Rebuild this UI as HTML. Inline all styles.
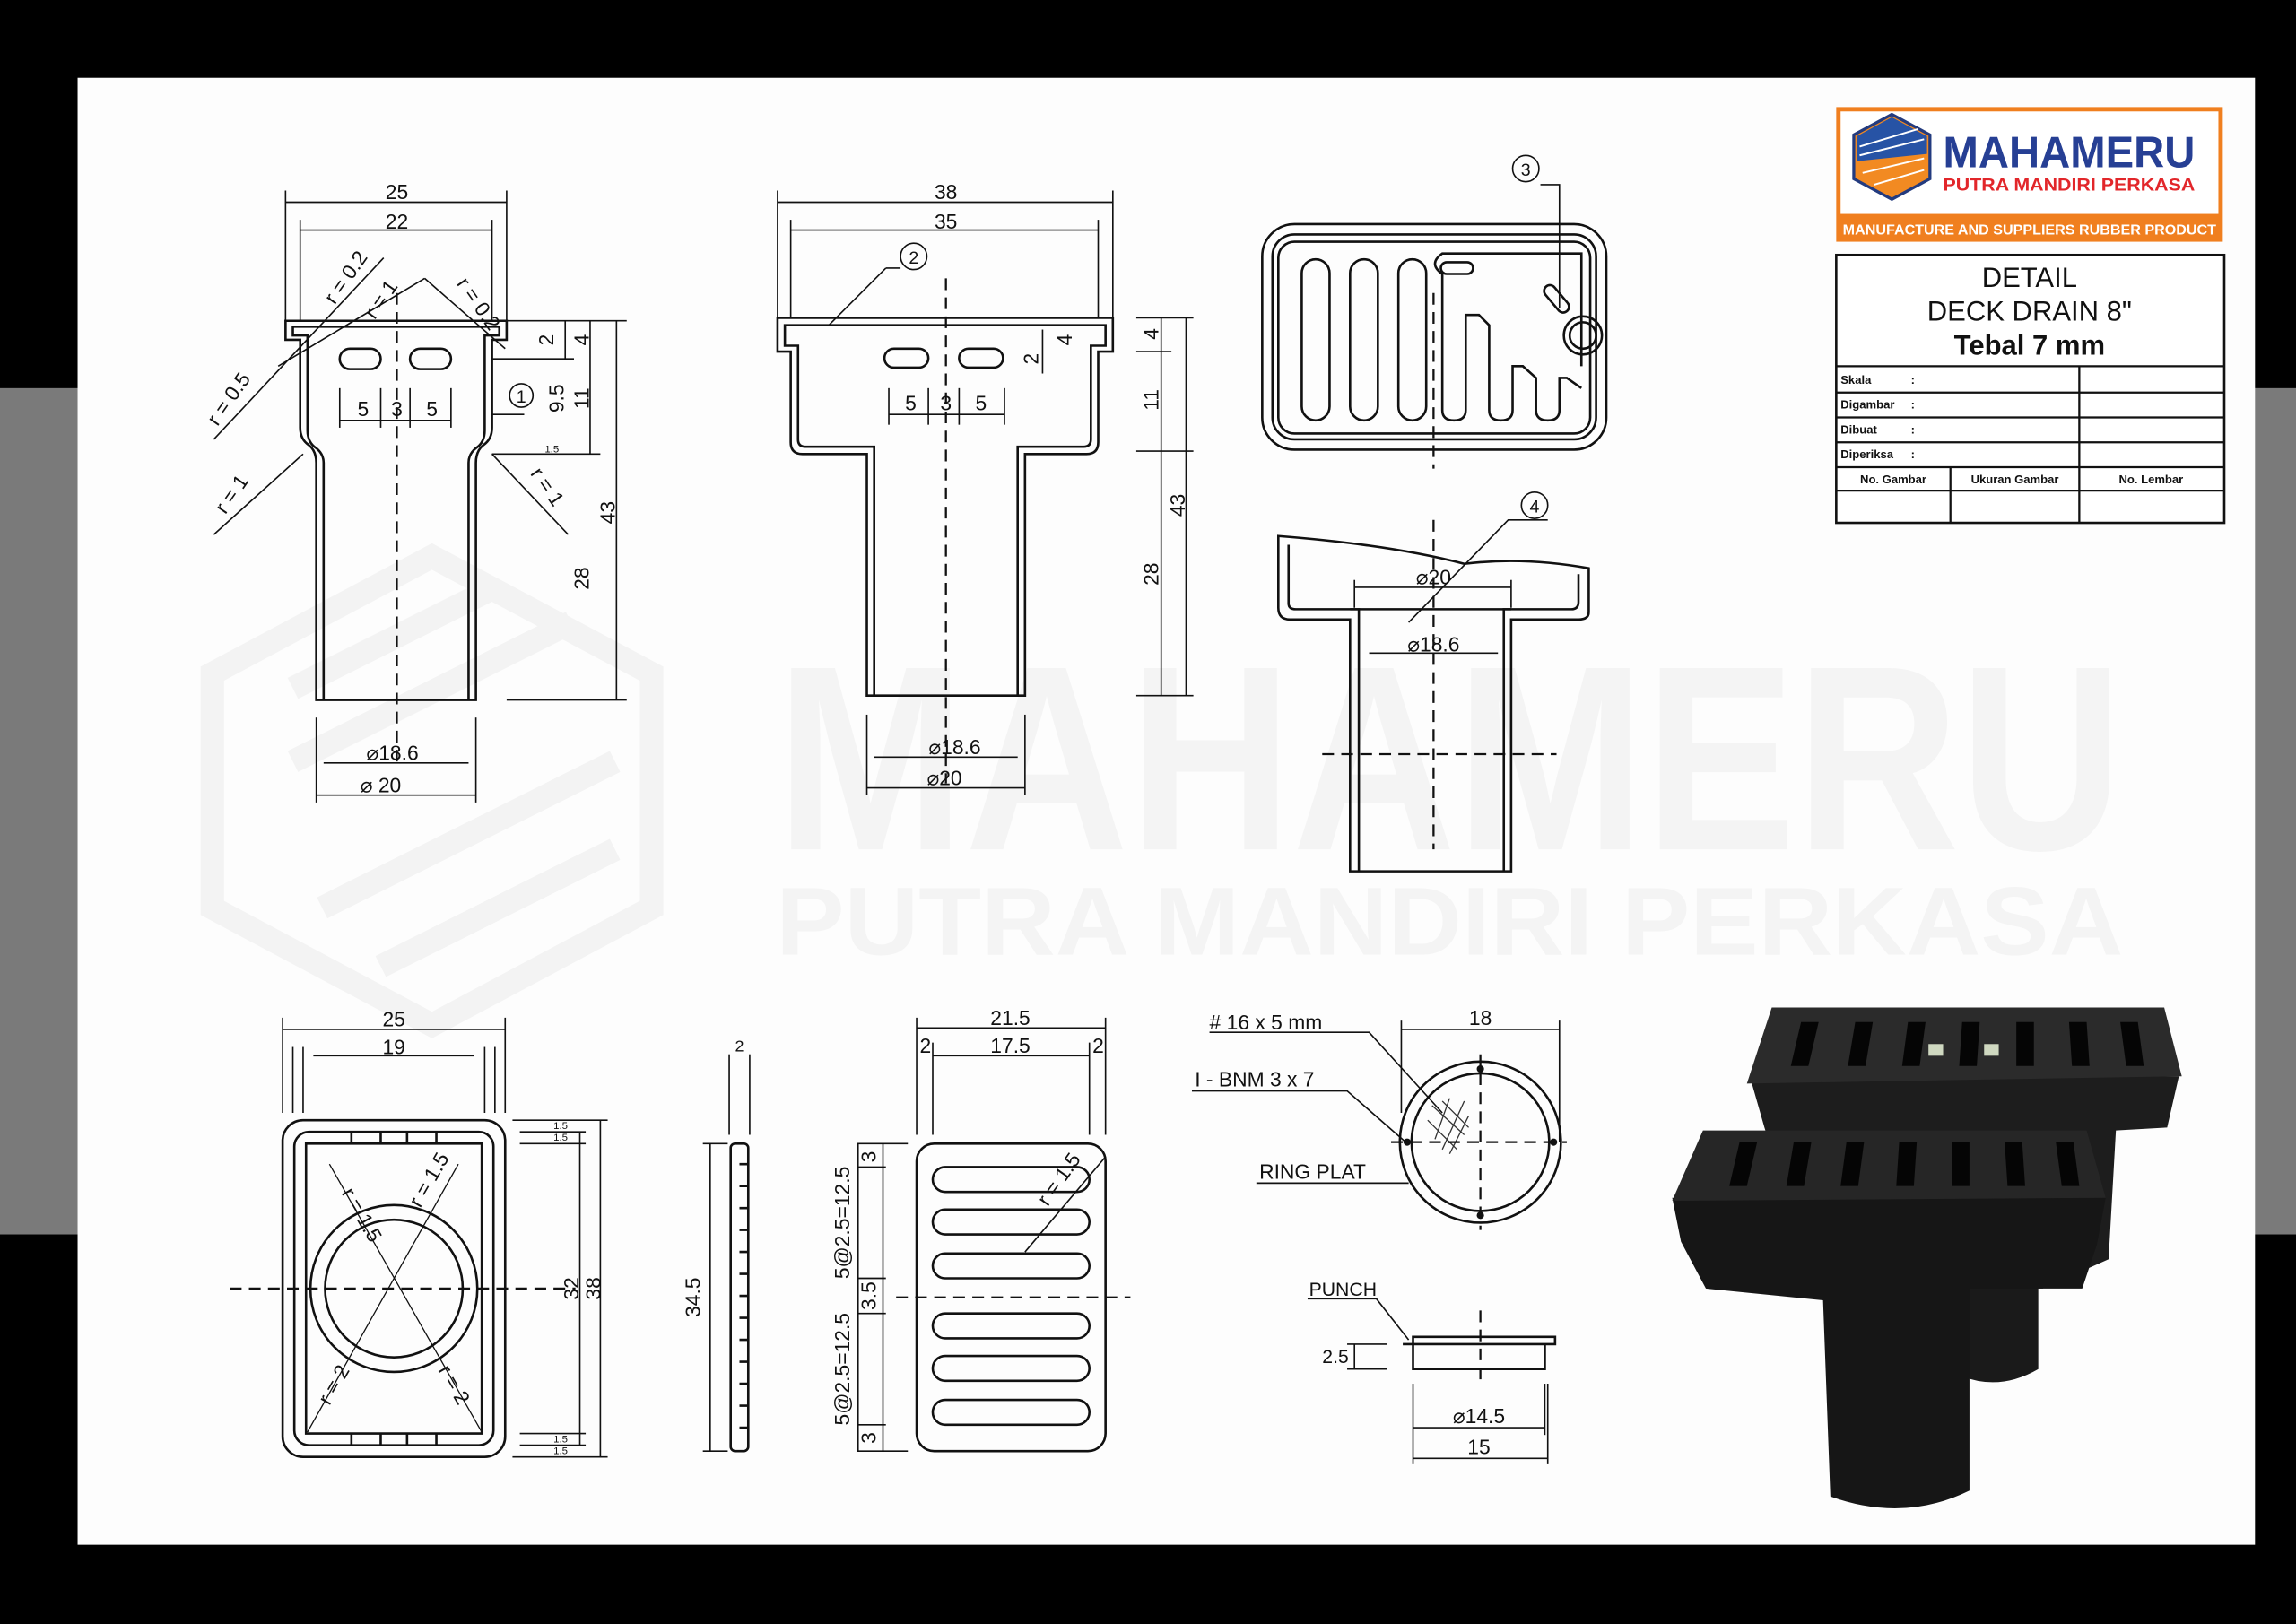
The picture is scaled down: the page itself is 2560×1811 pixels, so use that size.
<!DOCTYPE html>
<html><head><meta charset="utf-8"><style>
html,body{margin:0;padding:0;background:#000}
svg{display:block}
text{font-family:"Liberation Sans",sans-serif;fill:#111}
</style></head><body>
<svg width="2560" height="1811" viewBox="0 0 1568 1109" xmlns="http://www.w3.org/2000/svg">
<rect width="1568" height="1109" fill="#000"/>
<rect x="0" y="265" width="1568" height="578" fill="#7a7a7a"/>
<rect x="53" y="53" width="1487" height="1002" fill="#fdfdfd"/>
<!-- faint watermark -->
<g fill="none" stroke="#f3f3f3" stroke-width="16">
<polygon points="295,380 445,460 445,620 295,700 145,620 145,460"/>
<line x1="200" y1="470" x2="340" y2="400"/><line x1="200" y1="520" x2="390" y2="425"/>
<line x1="220" y1="620" x2="420" y2="520"/><line x1="260" y1="660" x2="420" y2="580"/>
</g>
<text x="990" y="580" font-size="180" font-weight="bold" text-anchor="middle" style="fill:#f4f4f4" textLength="920" lengthAdjust="spacingAndGlyphs">MAHAMERU</text>
<text x="990" y="652" font-size="66" font-weight="bold" text-anchor="middle" style="fill:#f4f4f4" textLength="920" lengthAdjust="spacingAndGlyphs">PUTRA MANDIRI PERKASA</text>

<g stroke="#111" stroke-width="1.6" fill="none">
<!-- View 1 -->
<path d="M195,219 H346 V232 H336 V292 Q336,300 330,304 Q325,308 325,316 V478 H216 V316 Q216,308 211,304 Q205,300 205,292 V232 H195 Z"/>
<path d="M221,478 V316 Q221,310 216,306 Q210,302 210,294 V229 H200 V223 H341 V229 H331 V294 Q331,302 325,306 Q320,310 320,316 V478"/>
<rect x="232" y="238" width="28" height="14" rx="7"/><rect x="280" y="238" width="28" height="14" rx="7"/>
<!-- View 2 -->
<path d="M531,217 H760 V240 H750 V302 Q750,310 742,310 H700 V475 H592 V310 H548 Q540,310 540,302 V240 H531 Z"/>
<path d="M597,475 V305 H550 Q545,305 545,300 V236 H536 V222 H755 V236 H745 V300 Q745,305 740,305 H695 V475"/>
<rect x="604" y="238" width="30" height="13" rx="6.5"/><rect x="655" y="238" width="30" height="13" rx="6.5"/>
<!-- grate top -->
<rect x="862" y="153" width="235" height="154" rx="22"/>
<rect x="869" y="160" width="221" height="140" rx="15"/>
<rect x="873" y="165" width="213" height="131" rx="11"/>
<rect x="889" y="177" width="19" height="110" rx="9.5"/><rect x="922" y="177" width="19" height="110" rx="9.5"/><rect x="955" y="177" width="19" height="110" rx="9.5"/>
<path d="M985,187 V280 Q985,287 993,287 Q1001,287 1001,280 V215 H1010 L1017,222 V280 Q1017,287 1025,287 Q1033,287 1033,280 V250 H1040 L1049,258 V280 Q1049,287 1057,287 Q1065,287 1065,280 V258 H1070 L1080,265"/>
<path d="M985,187 Q975,180 985,173 H1080 V250"/>
<rect x="984" y="179" width="22" height="8" rx="4"/>
<circle cx="1081" cy="229" r="13"/><circle cx="1081" cy="229" r="9"/>
<rect x="1052" y="200" width="22" height="8" rx="4" transform="rotate(50 1063 204)"/>
<!-- section 4 -->
<path d="M873,366 Q950,372 1000,385 Q1040,380 1085,388 V418 Q1085,423 1078,423 H1032 V595 H922 V423 H881 Q873,423 873,415 Z"/>
<path d="M880,372 V412 Q880,416 885,416 H928 V595 M1027,595 V416 H1073 Q1078,416 1078,411 V392"/>
<line x1="922" y1="416" x2="1032" y2="416"/>
<!-- bottom views -->
<rect x="193" y="765" width="152" height="230" rx="14"/>
<rect x="201" y="773" width="136" height="214" rx="10"/>
<path d="M209,781 H329 V979 H209 Z"/>
<circle cx="269" cy="880" r="57"/><circle cx="269" cy="880" r="47"/>
<line x1="240" y1="773" x2="240" y2="781"/><line x1="260" y1="773" x2="260" y2="781"/><line x1="278" y1="773" x2="278" y2="781"/><line x1="298" y1="773" x2="298" y2="781"/>
<line x1="240" y1="979" x2="240" y2="987"/><line x1="260" y1="979" x2="260" y2="987"/><line x1="278" y1="979" x2="278" y2="987"/><line x1="298" y1="979" x2="298" y2="987"/>
<line x1="225" y1="795" x2="329" y2="978" stroke-width="0.8"/><line x1="313" y1="795" x2="210" y2="978" stroke-width="0.8"/>
<rect x="499" y="781" width="12" height="210" rx="3"/>
<path d="M505,795 h6 M505,810 h6 M505,825 h6 M505,840 h6 M505,855 h6 M505,870 h6 M505,885 h6 M505,900 h6 M505,915 h6 M505,930 h6 M505,945 h6 M505,960 h6 M505,975 h6"/>
<rect x="626" y="781" width="129" height="210" rx="12"/>
<rect x="637" y="797" width="107" height="17" rx="8.5"/><rect x="637" y="826" width="107" height="17" rx="8.5"/><rect x="637" y="856" width="107" height="17" rx="8.5"/>
<rect x="637" y="897" width="107" height="17" rx="8.5"/><rect x="637" y="926" width="107" height="17" rx="8.5"/><rect x="637" y="956" width="107" height="17" rx="8.5"/>
<circle cx="1011" cy="780" r="55"/><circle cx="1011" cy="780" r="47"/>
<path d="M958,918 H1062 V913 H965 V935 H1055 V918"/>
</g>
<g fill="#111"><circle cx="1011" cy="730" r="2.5"/><circle cx="1011" cy="830" r="2.5"/><circle cx="961" cy="780" r="2.5"/><circle cx="1061" cy="780" r="2.5"/></g>
<g stroke="#333" stroke-width="0.8"><path d="M978,755 L1000,775 M975,765 L995,785 M985,752 L1003,770 M990,750 L980,778 M1000,752 L985,785 M1003,762 L990,788"/></g>
<!-- centerlines -->
<g stroke="#111" stroke-width="1.4" fill="none" stroke-dasharray="8,5">
<line x1="271" y1="200" x2="271" y2="520"/><line x1="646" y1="190" x2="646" y2="535"/>
<line x1="979" y1="200" x2="979" y2="320"/><line x1="979" y1="355" x2="979" y2="580"/>
<line x1="903" y1="515" x2="1063" y2="515"/>
<line x1="157" y1="880" x2="393" y2="880"/><line x1="612" y1="886" x2="772" y2="886"/>
<line x1="1011" y1="720" x2="1011" y2="840"/><line x1="950" y1="780" x2="1070" y2="780"/>
<line x1="1011" y1="895" x2="1011" y2="945"/>
</g>
<!-- dimension lines -->
<g stroke="#111" stroke-width="1" fill="none">
<line x1="195" y1="138" x2="346" y2="138"/><line x1="205" y1="157" x2="336" y2="157"/>
<line x1="195" y1="130" x2="195" y2="219"/><line x1="346" y1="130" x2="346" y2="219"/><line x1="205" y1="150" x2="205" y2="219"/><line x1="336" y1="150" x2="336" y2="219"/>
<line x1="346" y1="219" x2="428" y2="219"/><line x1="346" y1="478" x2="428" y2="478"/>
<line x1="421" y1="219" x2="421" y2="478"/><line x1="403" y1="219" x2="403" y2="310"/><line x1="386" y1="219" x2="386" y2="245"/>
<line x1="336" y1="310" x2="410" y2="310"/><line x1="336" y1="245" x2="392" y2="245"/>
<line x1="232" y1="287" x2="308" y2="287"/><line x1="232" y1="265" x2="232" y2="292"/><line x1="260" y1="265" x2="260" y2="292"/><line x1="280" y1="265" x2="280" y2="292"/><line x1="308" y1="265" x2="308" y2="292"/>
<line x1="221" y1="521" x2="320" y2="521"/><line x1="216" y1="543" x2="325" y2="543"/><line x1="216" y1="490" x2="216" y2="548"/><line x1="325" y1="490" x2="325" y2="548"/>
<line x1="146" y1="300" x2="262" y2="176"/><line x1="190" y1="250" x2="290" y2="190"/><line x1="290" y1="190" x2="345" y2="238"/>
<line x1="146" y1="365" x2="207" y2="310"/><line x1="336" y1="310" x2="388" y2="365"/>
<line x1="336" y1="283" x2="358" y2="283"/><circle cx="356" cy="270" r="8"/>
<line x1="531" y1="138" x2="760" y2="138"/><line x1="540" y1="157" x2="750" y2="157"/>
<line x1="531" y1="130" x2="531" y2="217"/><line x1="760" y1="130" x2="760" y2="217"/><line x1="540" y1="150" x2="540" y2="217"/><line x1="750" y1="150" x2="750" y2="217"/>
<line x1="776" y1="217" x2="815" y2="217"/><line x1="776" y1="475" x2="815" y2="475"/><line x1="776" y1="240" x2="800" y2="240"/><line x1="776" y1="308" x2="815" y2="308"/>
<line x1="810" y1="217" x2="810" y2="475"/><line x1="793" y1="217" x2="793" y2="475"/>
<line x1="712" y1="225" x2="712" y2="255"/>
<line x1="607" y1="283" x2="686" y2="283"/><line x1="607" y1="265" x2="607" y2="290"/><line x1="634" y1="265" x2="634" y2="290"/><line x1="655" y1="265" x2="655" y2="290"/><line x1="686" y1="265" x2="686" y2="290"/>
<line x1="597" y1="517" x2="695" y2="517"/><line x1="592" y1="538" x2="700" y2="538"/><line x1="592" y1="488" x2="592" y2="543"/><line x1="700" y1="488" x2="700" y2="543"/>
<line x1="566" y1="222" x2="605" y2="183"/><line x1="605" y1="183" x2="615" y2="183"/><circle cx="624" cy="175" r="9"/>
<circle cx="1042" cy="115" r="9"/><path d="M1052,126 H1065 V210"/>
<circle cx="1048" cy="345" r="9"/><path d="M1057,355 H1030 L962,425"/>
<line x1="925" y1="401" x2="1032" y2="401"/><line x1="935" y1="446" x2="1023" y2="446"/><line x1="925" y1="396" x2="925" y2="415"/><line x1="1032" y1="396" x2="1032" y2="415"/>
<line x1="193" y1="703" x2="345" y2="703"/><line x1="214" y1="721" x2="324" y2="721"/>
<line x1="193" y1="695" x2="193" y2="760"/><line x1="345" y1="695" x2="345" y2="760"/><line x1="200" y1="715" x2="200" y2="760"/><line x1="207" y1="715" x2="207" y2="760"/><line x1="331" y1="715" x2="331" y2="760"/><line x1="338" y1="715" x2="338" y2="760"/>
<line x1="350" y1="765" x2="415" y2="765"/><line x1="350" y1="995" x2="415" y2="995"/><line x1="355" y1="773" x2="400" y2="773"/><line x1="355" y1="781" x2="400" y2="781"/><line x1="355" y1="979" x2="400" y2="979"/><line x1="355" y1="987" x2="400" y2="987"/>
<line x1="410" y1="765" x2="410" y2="995"/><line x1="396" y1="773" x2="396" y2="987"/>
<line x1="498" y1="720" x2="498" y2="775"/><line x1="512" y1="720" x2="512" y2="775"/>
<line x1="480" y1="781" x2="497" y2="781"/><line x1="480" y1="991" x2="497" y2="991"/><line x1="485" y1="781" x2="485" y2="991"/>
<line x1="626" y1="702" x2="755" y2="702"/><line x1="637" y1="721" x2="744" y2="721"/>
<line x1="626" y1="695" x2="626" y2="775"/><line x1="755" y1="695" x2="755" y2="775"/><line x1="637" y1="712" x2="637" y2="775"/><line x1="744" y1="712" x2="744" y2="775"/>
<line x1="585" y1="781" x2="620" y2="781"/><line x1="585" y1="991" x2="620" y2="991"/><line x1="585" y1="797" x2="605" y2="797"/><line x1="585" y1="873" x2="605" y2="873"/><line x1="585" y1="897" x2="605" y2="897"/><line x1="585" y1="973" x2="605" y2="973"/>
<line x1="586" y1="781" x2="586" y2="991"/><line x1="603" y1="781" x2="603" y2="991"/>
<line x1="700" y1="855" x2="755" y2="790"/>
<line x1="957" y1="703" x2="1065" y2="703"/><line x1="957" y1="697" x2="957" y2="760"/><line x1="1065" y1="697" x2="1065" y2="780"/>
<path d="M826,705 H935 L985,760"/><path d="M814,745 H920 L960,780"/><path d="M858,808 H962"/>
<path d="M893,887 H940 L962,915"/>
<path d="M920,918 H947 M920,935 H947 M925,918 V935"/>
<line x1="965" y1="975" x2="1055" y2="975"/><line x1="965" y1="996" x2="1057" y2="996"/><line x1="965" y1="945" x2="965" y2="1000"/><line x1="1055" y1="945" x2="1055" y2="980"/><line x1="1057" y1="945" x2="1057" y2="1000"/>
</g>
<!-- labels -->
<g font-size="14">
<text x="271" y="136" text-anchor="middle">25</text><text x="271" y="156" text-anchor="middle">22</text>
<text x="646" y="136" text-anchor="middle">38</text><text x="646" y="156" text-anchor="middle">35</text>
<text x="248" y="284" text-anchor="middle">5</text><text x="271" y="284" text-anchor="middle">3</text><text x="295" y="284" text-anchor="middle">5</text>
<text x="622" y="280" text-anchor="middle">5</text><text x="646" y="280" text-anchor="middle">3</text><text x="670" y="280" text-anchor="middle">5</text>
<text x="268" y="519" text-anchor="middle">⌀18.6</text><text x="260" y="541" text-anchor="middle">⌀ 20</text>
<text x="652" y="515" text-anchor="middle">⌀18.6</text><text x="645" y="536" text-anchor="middle">⌀20</text>
<text x="979" y="399" text-anchor="middle">⌀20</text><text x="979" y="445" text-anchor="middle">⌀18.6</text>
<text transform="translate(420,350) rotate(-90)" text-anchor="middle">43</text>
<text transform="translate(402,395) rotate(-90)" text-anchor="middle">28</text>
<text transform="translate(402,272) rotate(-90)" text-anchor="middle">11</text>
<text transform="translate(385,272) rotate(-90)" text-anchor="middle">9.5</text>
<text transform="translate(402,232) rotate(-90)" text-anchor="middle">4</text>
<text transform="translate(378,232) rotate(-90)" text-anchor="middle">2</text>
<text transform="translate(809,345) rotate(-90)" text-anchor="middle">43</text>
<text transform="translate(791,392) rotate(-90)" text-anchor="middle">28</text>
<text transform="translate(791,273) rotate(-90)" text-anchor="middle">11</text>
<text transform="translate(791,228) rotate(-90)" text-anchor="middle">4</text>
<text transform="translate(709,245) rotate(-90)" text-anchor="middle">2</text>
<text transform="translate(732,232) rotate(-90)" text-anchor="middle">4</text>
<text transform="translate(160,275) rotate(-55)" text-anchor="middle">r = 0.5</text>
<text transform="translate(240,192) rotate(-55)" text-anchor="middle">r = 0.2</text>
<text transform="translate(264,207) rotate(-55)" text-anchor="middle">r = 1</text>
<text transform="translate(323,210) rotate(55)" text-anchor="middle">r = 0.2</text>
<text transform="translate(162,340) rotate(-55)" text-anchor="middle">r = 1</text>
<text transform="translate(370,335) rotate(55)" text-anchor="middle">r = 1</text>
<text x="356" y="275" text-anchor="middle" font-size="12">1</text>
<text x="624" y="180" text-anchor="middle" font-size="12">2</text>
<text x="1042" y="120" text-anchor="middle" font-size="12">3</text>
<text x="1048" y="350" text-anchor="middle" font-size="12">4</text>
<text x="269" y="701" text-anchor="middle">25</text><text x="269" y="720" text-anchor="middle">19</text>
<text transform="translate(395,880) rotate(-90)" text-anchor="middle">32</text>
<text transform="translate(410,880) rotate(-90)" text-anchor="middle">38</text>
<text transform="translate(478,886) rotate(-90)" text-anchor="middle">34.5</text>
<text x="505" y="718" text-anchor="middle" font-size="11">2</text>
<text transform="translate(243,832) rotate(60)" text-anchor="middle">r = 1.5</text>
<text transform="translate(297,808) rotate(-60)" text-anchor="middle">r = 1.5</text>
<text transform="translate(232,948) rotate(-60)" text-anchor="middle">r = 2</text>
<text transform="translate(306,948) rotate(60)" text-anchor="middle">r = 2</text>
<text x="690" y="700" text-anchor="middle">21.5</text><text x="690" y="719" text-anchor="middle">17.5</text>
<text x="632" y="719" text-anchor="middle">2</text><text x="750" y="719" text-anchor="middle">2</text>
<text transform="translate(580,835) rotate(-90)" text-anchor="middle">5@2.5=12.5</text>
<text transform="translate(580,935) rotate(-90)" text-anchor="middle">5@2.5=12.5</text>
<text transform="translate(598,790) rotate(-90)" text-anchor="middle">3</text>
<text transform="translate(598,885) rotate(-90)" text-anchor="middle">3.5</text>
<text transform="translate(598,982) rotate(-90)" text-anchor="middle">3</text>
<text transform="translate(727,808) rotate(-55)" text-anchor="middle">r = 1.5</text>
<text x="826" y="703">#  16  x  5   mm</text>
<text x="816" y="742">I  -  BNM  3 x 7</text>
<text x="860" y="805">RING PLAT</text>
<text x="1011" y="700" text-anchor="middle">18</text>
<text x="894" y="885" font-size="13">PUNCH</text>
<text x="903" y="931" font-size="13">2.5</text>
<text x="1010" y="972" text-anchor="middle">⌀14.5</text>
<text x="1010" y="993" text-anchor="middle">15</text>
<g font-size="7"><text x="378" y="771">1.5</text><text x="378" y="779">1.5</text><text x="378" y="985">1.5</text><text x="378" y="993">1.5</text><text x="372" y="309">1.5</text></g>
</g>
<!-- photo -->
<g>
<!-- back unit -->
<path d="M1340,870 H1392 V935 Q1366,950 1340,940 Z" fill="#1a1a1a"/>
<path d="M1195,735 L1488,735 L1480,770 L1445,772 L1440,860 L1395,880 L1240,880 L1205,770 Z" fill="#1d1d1d"/>
<path d="M1210,688 L1478,688 L1490,735 L1193,740 Z" fill="#2b2b2b"/>
<!-- front unit -->
<path d="M1142,818 L1438,818 L1432,850 L1422,880 L1345,880 L1345,1018 Q1300,1040 1250,1022 L1245,888 L1165,880 L1148,848 Z" fill="#161616"/>
<path d="M1163,772 L1425,772 L1438,818 L1142,820 Z" fill="#262626"/>
<g fill="#050505">
<path d="M1230,698 h12 l-7,30 h-12 z"/><path d="M1267,698 h12 l-5,30 h-12 z"/><path d="M1303,698 h12 l-4,30 h-12 z"/><path d="M1340,698 h12 l-2,30 h-12 z"/><path d="M1377,698 h12 l0,30 h-12 z"/><path d="M1413,698 h12 l2,30 h-12 z"/><path d="M1448,698 h12 l4,30 h-12 z"/>
<path d="M1188,780 h12 l-7,30 h-12 z"/><path d="M1225,780 h12 l-5,30 h-12 z"/><path d="M1261,780 h12 l-4,30 h-12 z"/><path d="M1297,780 h12 l-2,30 h-12 z"/><path d="M1333,780 h12 l0,30 h-12 z"/><path d="M1369,780 h12 l2,30 h-12 z"/><path d="M1404,780 h12 l4,30 h-12 z"/>
</g>
<rect x="1317" y="713" width="10" height="8" fill="#cfd8c0"/><rect x="1355" y="713" width="10" height="8" fill="#cfd8c0"/>
</g>
<!-- logo -->
<rect x="1254" y="73" width="264" height="92" fill="#f07f1f"/>
<rect x="1257" y="76" width="258" height="70" fill="#fff"/>
<polygon points="1292,78 1318,92 1318,122 1292,136 1266,122 1266,92" fill="#f28a22" stroke="#233b7f" stroke-width="2"/>
<polygon points="1292,80 1316,93 1316,105 1268,110 1268,93" fill="#2753a5"/>
<g stroke="#fff" stroke-width="1.2"><line x1="1270" y1="100" x2="1310" y2="88"/><line x1="1270" y1="106" x2="1314" y2="95"/><line x1="1272" y1="118" x2="1314" y2="108"/><line x1="1280" y1="126" x2="1314" y2="116"/></g>
<text x="1413" y="114" text-anchor="middle" font-size="30" font-weight="bold" style="fill:#263f94" textLength="172" lengthAdjust="spacingAndGlyphs">MAHAMERU</text>
<text x="1413" y="130" text-anchor="middle" font-size="12" font-weight="bold" style="fill:#e2262a" textLength="172" lengthAdjust="spacingAndGlyphs">PUTRA MANDIRI PERKASA</text>
<text x="1386" y="160" text-anchor="middle" font-size="9.5" font-weight="bold" style="fill:#fff" textLength="255" lengthAdjust="spacingAndGlyphs">MANUFACTURE AND SUPPLIERS RUBBER PRODUCT</text>
<!-- title block -->
<g stroke="#111" stroke-width="1.6" fill="#fff">
<rect x="1254" y="174" width="265" height="183"/>
</g>
<g stroke="#111" stroke-width="1.4">
<line x1="1254" y1="250" x2="1519" y2="250"/><line x1="1254" y1="268" x2="1519" y2="268"/><line x1="1254" y1="285" x2="1519" y2="285"/><line x1="1254" y1="302" x2="1519" y2="302"/><line x1="1254" y1="319" x2="1519" y2="319"/><line x1="1254" y1="335" x2="1519" y2="335"/>
<line x1="1420" y1="250" x2="1420" y2="357"/><line x1="1332" y1="319" x2="1332" y2="357"/>
</g>
<text x="1386" y="196" text-anchor="middle" font-size="19">DETAIL</text>
<text x="1386" y="219" text-anchor="middle" font-size="19">DECK DRAIN 8"</text>
<text x="1386" y="242" text-anchor="middle" font-size="19" font-weight="bold">Tebal 7 mm</text>
<g font-size="8" font-weight="bold">
<text x="1257" y="262">Skala</text><text x="1305" y="262">:</text>
<text x="1257" y="279">Digambar</text><text x="1305" y="279">:</text>
<text x="1257" y="296">Dibuat</text><text x="1305" y="296">:</text>
<text x="1257" y="313">Diperiksa</text><text x="1305" y="313">:</text>
<text x="1293" y="330" text-anchor="middle">No. Gambar</text><text x="1376" y="330" text-anchor="middle">Ukuran Gambar</text><text x="1469" y="330" text-anchor="middle">No. Lembar</text>
</g>
</svg>
</body></html>
